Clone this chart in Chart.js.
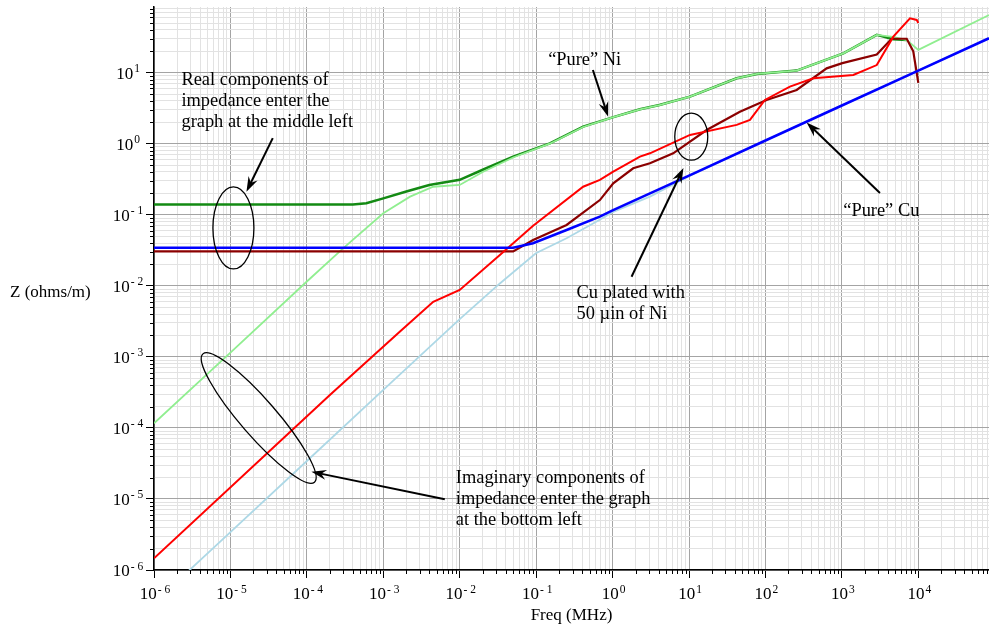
<!DOCTYPE html>
<html>
<head>
<meta charset="utf-8">
<script src="https://cdn.jsdelivr.net/npm/chart.js@4.4.1/dist/chart.umd.min.js"></script>
<style>
  html, body { margin: 0; padding: 0; background: #fff; }
  #wrap { width: 989px; height: 627px; }
</style>
</head>
<body>
<div id="wrap"><canvas id="chart" width="989" height="627"></canvas></div>
<script>
// Frecuencias en MHz, impedancia en ohms/m

// "Pure" Ni, parte real
const niReFreq = [1e-6, 4e-4, 6e-4, 1e-3, 2e-3, 4e-3, 1e-2, 2e-2, 5e-2, 0.151, 0.412, 1.0, 2.28, 4.1, 10.3, 42, 77, 256, 1045, 2860, 4700, 7050];
const niReZ    = [0.14, 0.14, 0.145, 0.17, 0.213, 0.262, 0.31, 0.43, 0.658, 1.01, 1.74, 2.35, 3.05, 3.5, 4.6, 8.34, 9.6, 10.7, 18.7, 34, 29.5, 28.8];

// "Pure" Ni, parte imaginaria
const niImFreq = [1e-6, 1e-5, 1e-4, 3e-4, 1e-3, 2.24e-3, 4.5e-3, 1e-2, 2e-2, 5e-2, 0.151, 0.412, 1.0, 2.28, 4.1, 10.3, 42, 77, 256, 1045, 2860, 4670, 7050, 1e4, 84100];
const niImZ    = [1.16e-4, 1.15e-3, 1.15e-2, 3.4e-2, 0.105, 0.18, 0.248, 0.263, 0.40, 0.64, 1.0, 1.72, 2.35, 3.05, 3.5, 4.6, 8.34, 9.6, 10.7, 18.7, 34, 31.8, 28.8, 20.9, 64.6];

// "Pure" Cu, parte real
const cuReFreq = [1e-6, 0.05, 0.091, 0.25, 0.68, 1, 10, 100, 1000, 1e4, 84100];
const cuReZ    = [0.0344, 0.0344, 0.0398, 0.0611, 0.094, 0.115, 0.356, 1.11, 3.45, 10.7, 30.5];

// "Pure" Cu, parte imaginaria
const cuImFreq = [2.5e-6, 1e-5, 1e-4, 1e-3, 1e-2, 0.0335, 0.099, 0.25, 0.68, 1.02, 3.08, 10, 100, 1000, 1e4, 84100];
const cuImZ    = [8.55e-7, 3.42e-6, 3.42e-5, 3.42e-4, 3.4e-3, 0.0108, 0.0287, 0.0467, 0.085, 0.110, 0.18, 0.35, 1.11, 3.45, 10.7, 30.5];

// Cu con 50 uin de Ni, parte real
const plReFreq = [1e-6, 0.05, 0.0912, 0.25, 0.682, 1.02, 1.86, 3.08, 6.21, 17, 46.3, 103.5, 256, 632, 1014, 2860, 4470, 7050, 8590, 1e4];
const plReZ    = [0.0305, 0.0305, 0.0442, 0.0718, 0.161, 0.277, 0.451, 0.531, 0.733, 1.56, 2.82, 4.13, 5.7, 11.5, 13.6, 18, 30, 30, 20, 7.2];

// Cu con 50 uin de Ni, parte imaginaria
const plImFreq = [1e-6, 2e-4, 1.64e-3, 4.5e-3, 1e-2, 0.0335, 0.0912, 0.412, 0.682, 1.02, 2.28, 3.08, 10.3, 42, 62.7, 98.4, 209, 423, 1410, 2860, 4710, 7780, 9530, 1e4];
const plImZ    = [1.46e-6, 2.9e-4, 2.26e-3, 5.97e-3, 8.73e-3, 0.0272, 0.07, 0.248, 0.309, 0.404, 0.658, 0.733, 1.33, 1.84, 2.16, 4.13, 6.35, 8.34, 9.29, 12.8, 32.1, 58.3, 55.2, 50];

// Limites de los ejes
const freqMin = 1e-6, freqMax = 8.41e4;
const zMin = 1e-6, zMax = 84;

// Notas: texto, flechas y elipses (ancladas en unidades de la grafica)
const noteTexts = [
  { f: 2.285e-6, z: 6.67, lines: ['Real components of', 'impedance enter the', 'graph at the middle left'] },
  { f: 0.1435, z: 12.8, lines: ['\u201CPure\u201D Ni'] },
  { f: 0.338, z: 6.67e-3, lines: ['Cu plated with', '50 \u00B5in of Ni'] },
  { f: 1042, z: 0.0946, lines: ['\u201CPure\u201D Cu'] },
  { f: 8.89e-3, z: 1.66e-5, lines: ['Imaginary components of', 'impedance enter the graph', 'at the bottom left'] }
];
const noteArrows = [
  { from: [3.58e-5, 1.2], to: [1.62e-5, 0.211] },
  { from: [0.552, 10.9], to: [0.875, 2.40] },
  { from: [1.77, 0.01343], to: [8.45, 0.4555] },
  { from: [3148, 0.2023], to: [346, 1.99] },
  { from: [6.38e-3, 9.89e-6], to: [1.148e-4, 2.415e-5] }
];
const noteEllipses = [
  { f: 1.094e-5, z: 0.0652, rx: 20.5, ry: 41, rot: 0 },
  { f: 10.7, z: 1.256, rx: 16.5, ry: 23.5, rot: 0 },
  { f: 2.344e-5, z: 1.377e-4, rx: 85, ry: 18, rot: 49 }
];

const serif = "'Liberation Serif', 'Times New Roman', serif";
const majorGrid = '#a4a4a4';
const minorGrid = '#e2e2e2';

Chart.defaults.font.family = serif;
Chart.defaults.color = '#000';

function pares(fs, zs) {
  return fs.map((f, i) => ({ x: f, y: zs[i] }));
}

function esDecada(v) {
  const l = Math.log10(v);
  return Math.abs(l - Math.round(l)) < 1e-6;
}

// marcas 1..9 por decada
function marcasLog(min, max) {
  const out = [];
  for (let e = Math.floor(Math.log10(min)); e <= Math.ceil(Math.log10(max)); e++) {
    for (let m = 1; m < 10; m++) {
      const v = parseFloat((m * Math.pow(10, e)).toPrecision(6));
      if (v >= min * 0.999999 && v <= max * 1.000001) out.push({ value: v });
    }
  }
  return out;
}

// exponente como texto: "- 6", "0", "1"...
function exponente(v) {
  const e = Math.round(Math.log10(v));
  return e < 0 ? '- ' + Math.abs(e) : String(e);
}

// dibuja "10" con el exponente elevado; cx = centro, base = linea base de "10"
function potenciaDiez(ctx, v, cx, base) {
  const exp = exponente(v);
  ctx.font = '17px ' + serif;
  const wBase = ctx.measureText('10').width;
  ctx.font = '11.5px ' + serif;
  const wExp = ctx.measureText(exp).width;
  const x0 = cx - (wBase + 1 + wExp) / 2;
  ctx.font = '17px ' + serif;
  ctx.fillText('10', x0, base);
  ctx.font = '11.5px ' + serif;
  ctx.fillText(exp, x0 + wBase + 1, base - 6.5);
}

function linea(label, fs, zs, color, width, order) {
  return {
    label: label,
    data: pares(fs, zs),
    borderColor: color,
    borderWidth: width,
    pointRadius: 0,
    tension: 0,
    fill: false,
    order: order
  };
}

// Marcas menores, etiquetas, titulo del eje Z y anotaciones
const notasPlugin = {
  id: 'notas',
  afterDraw(chart) {
    const ctx = chart.ctx;
    const xs = chart.scales.x, ys = chart.scales.y;
    const area = chart.chartArea;
    ctx.save();

    // marcas menores (mas cortas)
    ctx.strokeStyle = '#000';
    ctx.lineWidth = 1;
    ctx.beginPath();
    xs.ticks.forEach(t => {
      if (esDecada(t.value)) return;
      const px = Math.round(xs.getPixelForValue(t.value)) + 0.5;
      ctx.moveTo(px, area.bottom);
      ctx.lineTo(px, area.bottom + 4);
    });
    ys.ticks.forEach(t => {
      if (esDecada(t.value)) return;
      const py = Math.round(ys.getPixelForValue(t.value)) + 0.5;
      ctx.moveTo(area.left - 4, py);
      ctx.lineTo(area.left, py);
    });
    ctx.stroke();

    // etiquetas de las decadas
    ctx.fillStyle = '#000';
    ctx.textAlign = 'left';
    ctx.textBaseline = 'alphabetic';
    xs.ticks.forEach(t => {
      if (!esDecada(t.value)) return;
      potenciaDiez(ctx, t.value, xs.getPixelForValue(t.value) + 1, area.bottom + 29);
    });
    ys.ticks.forEach(t => {
      if (!esDecada(t.value)) return;
      potenciaDiez(ctx, t.value, area.left - 26, ys.getPixelForValue(t.value) + 6);
    });

    // titulo del eje vertical (horizontal, a la izquierda)
    ctx.font = '17px ' + serif;
    ctx.fillText('Z (ohms/m)', 10, ys.getPixelForValue(7e-3));

    // textos
    ctx.font = '18.4px ' + serif;
    noteTexts.forEach(n => {
      const x = xs.getPixelForValue(n.f);
      const y = ys.getPixelForValue(n.z);
      n.lines.forEach((s, i) => ctx.fillText(s, x, y + i * 20.8));
    });

    // elipses
    ctx.lineWidth = 1.3;
    noteEllipses.forEach(e => {
      ctx.beginPath();
      ctx.ellipse(xs.getPixelForValue(e.f), ys.getPixelForValue(e.z), e.rx, e.ry, e.rot * Math.PI / 180, 0, Math.PI * 2);
      ctx.stroke();
    });

    // flechas
    noteArrows.forEach(a => {
      const x0 = xs.getPixelForValue(a.from[0]), y0 = ys.getPixelForValue(a.from[1]);
      const x1 = xs.getPixelForValue(a.to[0]), y1 = ys.getPixelForValue(a.to[1]);
      const ang = Math.atan2(y1 - y0, x1 - x0);
      const c = Math.cos(ang), s = Math.sin(ang);
      ctx.lineWidth = 2;
      ctx.beginPath();
      ctx.moveTo(x0, y0);
      ctx.lineTo(x1 - c * 8, y1 - s * 8);
      ctx.stroke();
      ctx.beginPath();
      ctx.moveTo(x1, y1);
      ctx.lineTo(x1 - c * 15 - s * 5, y1 - s * 15 + c * 5);
      ctx.lineTo(x1 - c * 10, y1 - s * 10);
      ctx.lineTo(x1 - c * 15 + s * 5, y1 - s * 15 - c * 5);
      ctx.closePath();
      ctx.fill();
    });

    ctx.restore();
  }
};

const ejeComun = {
  type: 'logarithmic',
  bounds: 'data',
  grid: {
    color: c => (c.tick && esDecada(c.tick.value)) ? majorGrid : minorGrid,
    tickColor: c => (c.tick && esDecada(c.tick.value)) ? '#000' : 'rgba(0,0,0,0)',
    tickLength: 8,
    lineWidth: 1
  },
  border: { color: '#000', width: 1.5 }
};

new Chart(document.getElementById('chart'), {
  type: 'line',
  data: {
    datasets: [
      linea('Cu real', cuReFreq, cuReZ, '#0000ff', 2.5, 1),
      linea('Ni/Cu imag', plImFreq, plImZ, '#ff0000', 2, 2),
      linea('Ni/Cu real', plReFreq, plReZ, '#8b0000', 2.2, 3),
      linea('Ni imag', niImFreq, niImZ, '#90ee90', 1.8, 4),
      linea('Ni real', niReFreq, niReZ, '#138a13', 2.5, 5),
      linea('Cu imag', cuImFreq, cuImZ, '#add8e6', 1.8, 6)
    ]
  },
  options: {
    responsive: false,
    animation: false,
    devicePixelRatio: 1,
    events: [],
    layout: { padding: { top: 7, left: 0, right: 0, bottom: 0 } },
    plugins: { legend: { display: false }, tooltip: { enabled: false } },
    scales: {
      x: Object.assign({}, ejeComun, {
        min: freqMin,
        max: freqMax,
        afterBuildTicks: s => { s.ticks = marcasLog(s.min, s.max); },
        afterFit: s => { s.height = 57; s.paddingLeft = 0; s.paddingRight = 0; },
        ticks: { autoSkip: false, maxRotation: 0, minRotation: 0, callback: () => '' },
        title: {
          display: true, text: 'Freq (MHz)',
          font: { size: 17, family: serif },
          padding: { top: 0, bottom: 1 }
        }
      }),
      y: Object.assign({}, ejeComun, {
        min: zMin,
        max: zMax,
        afterBuildTicks: s => { s.ticks = marcasLog(s.min, s.max); },
        afterFit: s => { s.width = 154; s.paddingTop = 0; s.paddingBottom = 0; },
        ticks: { autoSkip: false, callback: () => '' }
      })
    }
  },
  plugins: [notasPlugin]
});
</script>
</body>
</html>
